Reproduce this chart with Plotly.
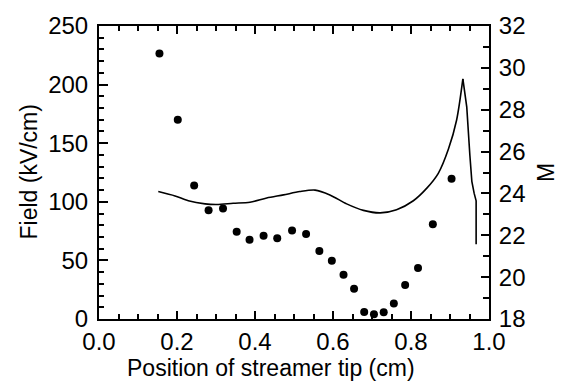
import plotly.graph_objects as go

# Field at the streamer tip (left axis)
tip_position = [0.155, 0.202, 0.244, 0.281, 0.318, 0.353, 0.386, 0.422, 0.457,
                0.495, 0.531, 0.565, 0.597, 0.627, 0.654, 0.680, 0.705, 0.730,
                0.756, 0.785, 0.818, 0.856, 0.904]
field_kv_cm = [226.6, 170.0, 114.0, 92.7, 94.2, 74.5, 67.7, 71.0, 68.8,
               75.6, 72.6, 58.0, 49.8, 37.7, 25.8, 6.0, 4.1, 5.8,
               13.2, 29.1, 43.6, 80.9, 119.6]

# M along the propagation path (right axis)
m_position = [0.152, 0.195, 0.229, 0.272, 0.302, 0.344, 0.387, 0.430, 0.473,
              0.515, 0.554, 0.592, 0.635, 0.678, 0.721, 0.763, 0.806, 0.840,
              0.870, 0.896, 0.917, 0.933, 0.943, 0.951, 0.956, 0.962, 0.967,
              0.967]
m_values = [24.09, 23.88, 23.65, 23.50, 23.47, 23.53, 23.58, 23.78, 23.93,
            24.09, 24.16, 23.93, 23.50, 23.19, 23.07, 23.22, 23.65, 24.24,
            24.96, 26.12, 27.51, 29.47, 28.12, 25.81, 24.58, 24.00, 23.65,
            21.57]

FONT = "Liberation Sans, Arial, Helvetica, sans-serif"

# the M curve is smooth up to its sharp maximum, then falls steeply
peak = m_values.index(max(m_values))

fig = go.Figure()
fig.add_trace(go.Scatter(
    x=tip_position, y=field_kv_cm, mode="markers",
    marker=dict(color="black", size=8), yaxis="y", showlegend=False))
fig.add_trace(go.Scatter(
    x=m_position[:peak + 1], y=m_values[:peak + 1], mode="lines",
    line=dict(color="black", width=1.6, shape="spline", smoothing=0.8),
    yaxis="y2", showlegend=False))
fig.add_trace(go.Scatter(
    x=m_position[peak:], y=m_values[peak:], mode="lines",
    line=dict(color="black", width=1.6),
    yaxis="y2", showlegend=False))

tick_font = dict(family=FONT, size=24, color="black")

fig.update_layout(
    width=569, height=384,
    margin=dict(l=99, r=80, t=16, b=65),
    paper_bgcolor="white", plot_bgcolor="white",
    font=dict(family=FONT, size=23, color="black"),
    xaxis=dict(
        range=[0, 1], dtick=0.2, tickformat=".1f", tickfont=tick_font,
        ticks="inside", ticklen=8, tickwidth=1.5, tickcolor="black",
        minor=dict(dtick=0.05, ticks="inside", ticklen=5, tickwidth=1.5,
                   tickcolor="black", showgrid=False),
        showline=True, linewidth=2, linecolor="black", mirror="ticks",
        showgrid=False, zeroline=False, ticklabelstandoff=0,
    ),
    yaxis=dict(
        range=[0, 250], dtick=50, tickfont=tick_font,
        ticks="inside", ticklen=9, tickwidth=1.5, tickcolor="black",
        minor=dict(dtick=10, ticks="inside", ticklen=5, tickwidth=1.5,
                   tickcolor="black", showgrid=False),
        showline=True, linewidth=2, linecolor="black",
        showgrid=False, zeroline=False, ticklabelstandoff=4,
    ),
    yaxis2=dict(
        overlaying="y", side="right", range=[18, 32], dtick=2,
        tickfont=tick_font,
        ticks="inside", ticklen=8, tickwidth=1.5, tickcolor="black",
        minor=dict(dtick=1, ticks="inside", ticklen=6, tickwidth=1.5,
                   tickcolor="black", showgrid=False),
        showline=True, linewidth=2, linecolor="black",
        showgrid=False, zeroline=False, ticklabelstandoff=3,
    ),
    annotations=[
        dict(text="Position of streamer tip (cm)", xref="paper", yref="paper",
             x=0.44, y=-0.168, xanchor="center", yanchor="middle",
             showarrow=False, font=dict(size=23)),
        dict(text="Field (kV/cm)", xref="paper", yref="paper",
             x=-0.182, y=0.5, xanchor="center", yanchor="middle",
             textangle=-90, showarrow=False, font=dict(size=23)),
        dict(text="M", xref="paper", yref="paper",
             x=1.145, y=0.5, xanchor="center", yanchor="middle",
             textangle=-90, showarrow=False, font=dict(size=23)),
    ],
)

fig.write_html("out.html")
